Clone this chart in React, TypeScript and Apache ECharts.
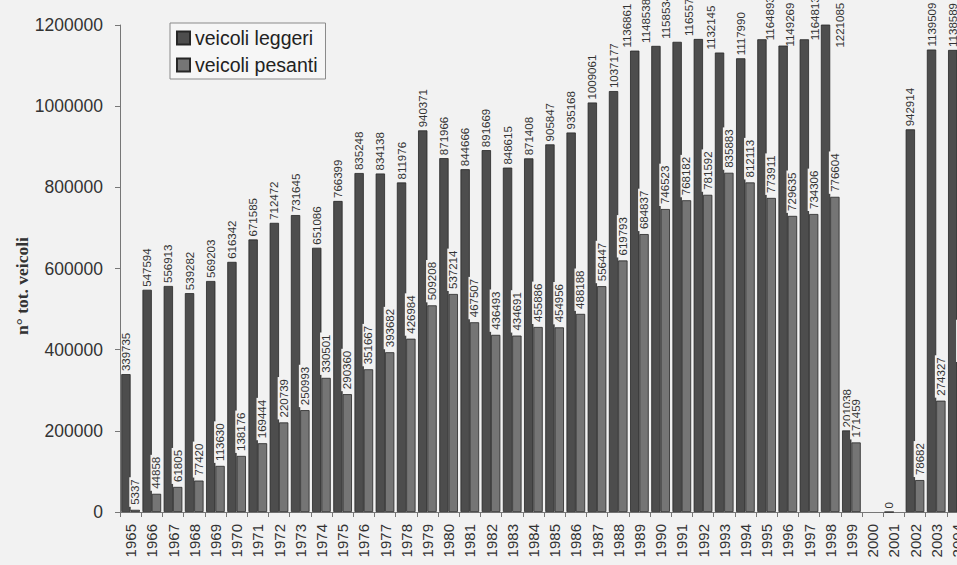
import React, { useEffect, useRef } from "react";
import * as echarts from "echarts";

// Annual vehicle counts, light vs heavy vehicles
const years = [
  "1965", "1966", "1967", "1968", "1969", "1970", "1971", "1972", "1973", "1974",
  "1975", "1976", "1977", "1978", "1979", "1980", "1981", "1982", "1983", "1984",
  "1985", "1986", "1987", "1988", "1989", "1990", "1991", "1992", "1993", "1994",
  "1995", "1996", "1997", "1998", "1999", "2000", "2001", "2002", "2003", "2004",
];

const leggeri: (number | null)[] = [
  339735, 547594, 556913, 539282, 569203, 616342, 671585, 712472, 731645, 651086,
  766399, 835248, 834138, 811976, 940371, 871966, 844666, 891669, 848615, 871408,
  905847, 935168, 1009061, 1037177, 1136861, 1148538, 1158534, 1165574, 1132145, 1117990,
  1164893, 1149269, 1164813, 1221085, 201038, null, 0, 942914, 1139509, 1138589,
];

const pesanti: (number | null)[] = [
  5337, 44858, 61805, 77420, 113630, 138176, 169444, 220739, 250993, 330501,
  290360, 351667, 393682, 426984, 509208, 537214, 467507, 436493, 434691, 455886,
  454956, 488188, 556447, 619793, 684837, 746523, 768182, 781592, 835883, 812113,
  773911, 729635, 734306, 776604, 171459, null, null, 78682, 274327, 362000,
];

const yTicks = { min: 0, max: 1200000, interval: 200000 };

// Hand-placed labels for the tallest bars (position relative to the bar rect)
const leggeriLabelPlacement: Record<string, [string, number]> = {
  "1989": ["-30%", -3],
  "1990": ["-55%", -3],
  "1991": ["-65%", -3],
  "1992": ["-55%", -3],
  "1993": ["-40%", -3],
  "1995": ["135%", 1],
  "1996": ["125%", 1],
  "1997": ["165%", 1],
  "1998": ["208%", 23],
};

const SANS = "'Liberation Sans', Arial, Helvetica, sans-serif";
const BG = "#f2f2f2";

export default function App() {
  const ref = useRef<HTMLDivElement>(null);

  useEffect(() => {
    if (!ref.current) return;
    const chart = echarts.init(ref.current, undefined, { renderer: "svg" });

    const valueLabel = {
      show: true,
      position: "top" as const,
      distance: 3,
      rotate: 90,
      align: "left" as const,
      verticalAlign: "middle" as const,
      fontFamily: SANS,
      fontSize: 11.5,
      color: "#333",
    };

    const leggeriData = leggeri.map((v, i) => {
      const place = leggeriLabelPlacement[years[i]];
      if (place && v !== null) {
        return { value: v, label: { position: place } };
      }
      return v;
    });

    chart.setOption({
      animation: false,
      backgroundColor: BG,
      grid: { left: 120, top: 25, bottom: 53, right: 12 },
      legend: {
        orient: "vertical",
        left: 170,
        top: 23,
        padding: [4, 8, 3, 6],
        itemGap: 5,
        itemWidth: 13,
        itemHeight: 13,
        icon: "rect",
        borderColor: "#8a8a8a",
        borderWidth: 1,
        backgroundColor: "#f6f6f6",
        textStyle: { fontFamily: SANS, fontSize: 19.5, color: "#222", lineHeight: 22 },
        data: ["veicoli leggeri", "veicoli pesanti"],
      },
      xAxis: {
        type: "category",
        data: years,
        boundaryGap: true,
        axisLine: { show: true, lineStyle: { color: "#777", width: 1 } },
        axisTick: { show: true, length: 5, lineStyle: { color: "#777" } },
        axisLabel: {
          interval: 0,
          rotate: 90,
          margin: 12,
          fontFamily: SANS,
          fontSize: 15,
          color: "#333",
        },
      },
      yAxis: {
        type: "value",
        min: yTicks.min,
        max: yTicks.max,
        interval: yTicks.interval,
        splitLine: { show: false },
        axisLine: { show: true, lineStyle: { color: "#777", width: 1 } },
        axisTick: { show: true, length: 5, lineStyle: { color: "#777" } },
        axisLabel: {
          margin: 17,
          fontFamily: SANS,
          fontSize: 17.5,
          color: "#333",
          formatter: (v: number) => String(v),
        },
      },
      graphic: [
        {
          type: "text",
          x: 22,
          y: 286,
          rotation: Math.PI / 2,
          style: {
            text: "n° tot. veicoli",
            font: "bold 17.5px 'Liberation Serif', 'Times New Roman', serif",
            fill: "#333",
            textAlign: "center",
            textVerticalAlign: "middle",
          },
        },
      ],
      series: [
        {
          name: "veicoli leggeri",
          type: "bar",
          clip: true,
          barGap: "0%",
          barCategoryGap: "12%",
          data: leggeriData,
          itemStyle: { color: "#4d4d4d", borderColor: "#262626", borderWidth: 0.8 },
          label: valueLabel,
        },
        {
          name: "veicoli pesanti",
          type: "bar",
          clip: true,
          barGap: "0%",
          barCategoryGap: "12%",
          data: pesanti,
          itemStyle: { color: "#757575", borderColor: "#262626", borderWidth: 0.8 },
          label: { ...valueLabel, backgroundColor: BG, padding: [0, 2] },
        },
      ],
    });

    return () => chart.dispose();
  }, []);

  return (
    <div
      style={{
        position: "fixed",
        left: 0,
        top: 0,
        width: 957,
        height: 565,
        overflow: "hidden",
        background: BG,
      }}
    >
      <div ref={ref} style={{ width: 980, height: 565 }} />
    </div>
  );
}
